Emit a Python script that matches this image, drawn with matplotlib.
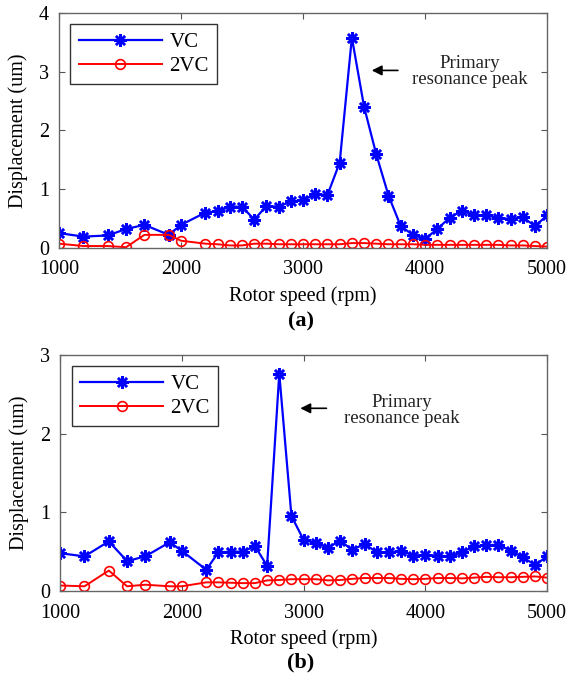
import numpy as np
import matplotlib.pyplot as plt

plt.rcParams['font.family'] = ['Liberation Serif', 'DejaVu Serif']

# Rotor speeds (rpm) used for both test runs
speed = [1000, 1200, 1400, 1550, 1700, 1900, 2000, 2200, 2300, 2400, 2500,
         2600, 2700, 2800, 2900, 3000, 3100, 3200, 3300, 3400, 3500, 3600,
         3700, 3800, 3900, 4000, 4100, 4200, 4300, 4400, 4500, 4600, 4700,
         4800, 4900, 5000]

# (a) displacement (um)
vc_a = [0.25, 0.19, 0.21, 0.32, 0.39, 0.22, 0.39, 0.60, 0.62, 0.70, 0.70,
        0.48, 0.71, 0.70, 0.79, 0.81, 0.91, 0.90, 1.45, 3.58, 2.40, 1.59,
        0.89, 0.37, 0.22, 0.15, 0.32, 0.51, 0.63, 0.56, 0.55, 0.51, 0.49,
        0.52, 0.37, 0.55]
vc2_a = [0.07, 0.03, 0.03, 0.01, 0.22, 0.22, 0.12, 0.07, 0.06, 0.04, 0.04,
         0.07, 0.07, 0.06, 0.06, 0.06, 0.06, 0.06, 0.06, 0.08, 0.08, 0.07,
         0.06, 0.06, 0.06, 0.05, 0.05, 0.05, 0.05, 0.05, 0.05, 0.05, 0.04,
         0.04, 0.03, 0.02]

# (b) displacement (um)
vc_b = [0.48, 0.44, 0.63, 0.38, 0.44, 0.62, 0.51, 0.27, 0.49, 0.50, 0.50,
        0.57, 0.32, 2.76, 0.95, 0.65, 0.61, 0.55, 0.64, 0.52, 0.60, 0.49,
        0.49, 0.51, 0.45, 0.46, 0.45, 0.44, 0.49, 0.57, 0.58, 0.59, 0.51,
        0.43, 0.33, 0.44]
vc2_b = [0.07, 0.06, 0.26, 0.06, 0.08, 0.06, 0.06, 0.11, 0.11, 0.105, 0.10,
         0.10, 0.135, 0.14, 0.15, 0.15, 0.15, 0.135, 0.14, 0.155, 0.165, 0.165,
         0.165, 0.155, 0.15, 0.155, 0.165, 0.165, 0.16, 0.17, 0.18, 0.175, 0.175,
         0.18, 0.185, 0.17]

fig = plt.figure(figsize=(5.67, 6.77), dpi=100)
ax1 = fig.add_axes([0.104, 0.634, 0.861, 0.347])
ax2 = fig.add_axes([0.106, 0.127, 0.859, 0.349])

# axes, series, y limit, panel tag and its height, arrow head/tail, note centre
panels = [
    (ax1, vc_a, vc2_a, 4, '(a)', 0.525, (3540, 3.02), (3800, 3.02), (4370, 3.0)),
    (ax2, vc_b, vc2_b, 3, '(b)', 0.022, (2950, 2.32), (3210, 2.32), (3810, 2.29)),
]

for ax, vc, vc2, ymax, tag, tag_y, head, tail, note in panels:
    ax.plot(speed, vc, color='blue', lw=1.6, marker=(8, 2, 0), ms=9, mew=1.8,
            label='VC')
    ax.plot(speed, vc2, color='red', lw=1.4, marker='o', ms=7,
            mfc='none', mew=1.2, label='2VC')
    ax.set_xlim(1000, 5000)
    ax.set_ylim(0, ymax)
    ax.set_xticks([1000, 2000, 3000, 4000, 5000])
    ax.set_yticks(np.arange(0, ymax + 1))
    ax.tick_params(direction='in', top=True, right=True, labelsize=14.5,
                   length=4, color='#555555')
    ax.tick_params(axis='x', pad=9)
    ax.tick_params(axis='y', pad=7)
    for s in ax.spines.values():
        s.set_color('#666666')
        s.set_linewidth(1.0)
    ax.set_xlabel('Rotor speed (rpm)', fontsize=14.5, labelpad=5)
    ax.set_ylabel('Displacement (um)', fontsize=14.5, labelpad=8)
    leg = ax.legend(loc='upper left', fontsize=15, handlelength=4.0,
                    fancybox=False, framealpha=1, borderaxespad=0.55,
                    labelspacing=0.2, borderpad=0.4, handletextpad=0.35)
    leg.get_frame().set_edgecolor('#333333')
    leg.get_frame().set_linewidth(1.0)
    ax.annotate('', xy=head, xytext=tail,
                arrowprops=dict(arrowstyle='-|>', color='black', lw=1.2,
                                mutation_scale=15))
    ax.text(note[0], note[1], 'Primary\nresonance peak', fontsize=13.5,
            ha='center', va='center', linespacing=0.9, color='#222222')
    fig.text(0.53, tag_y, tag, ha='center', va='center',
             fontsize=16, fontweight='bold')

fig.savefig('out.png', dpi=100)
